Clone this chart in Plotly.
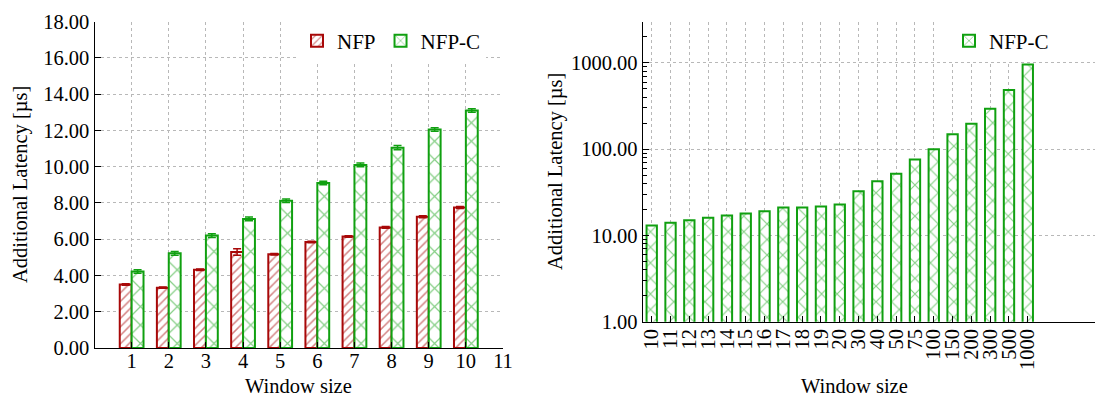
import plotly.graph_objects as go

# ---------------- data ----------------
left_windows = [1, 2, 3, 4, 5, 6, 7, 8, 9, 10]
nfp_latency = [3.5, 3.33, 4.32, 5.3, 5.17, 5.85, 6.15, 6.65, 7.24, 7.75]
nfp_err = [0.04, 0.03, 0.04, 0.18, 0.04, 0.04, 0.04, 0.05, 0.05, 0.05]
nfpc_latency = [4.22, 5.22, 6.2, 7.12, 8.12, 9.1, 10.1, 11.05, 12.05, 13.1]
nfpc_err = [0.1, 0.1, 0.1, 0.1, 0.1, 0.1, 0.1, 0.12, 0.1, 0.1]
left_xticks = [1, 2, 3, 4, 5, 6, 7, 8, 9, 10, 11]
left_yticks = [0, 2, 4, 6, 8, 10, 12, 14, 16, 18]

right_windows = ["10", "11", "12", "13", "14", "15", "16", "17", "18", "19", "20",
                 "30", "40", "50", "75", "100", "150", "200", "300", "500", "1000"]
right_latency = [13.0, 14.0, 15.0, 16.0, 17.0, 18.0, 19.0, 21.0, 21.0, 21.7, 22.8,
                 32.5, 42.5, 52.0, 76.0, 100.0, 149.0, 197.0, 293.0, 485.0, 955.0]
right_yticks = [1, 10, 100, 1000]
right_minor_ticks = [2, 3, 4, 5, 6, 7, 8, 9, 20, 30, 40, 50, 60, 70, 80, 90,
                     200, 300, 400, 500, 600, 700, 800, 900, 2000, 3000]

RED = "#a80808"
GREEN = "#10a010"
FONT = "Liberation Serif"
FS = 20.5
GRID = "#b8b8b8"

fig = go.Figure()

fig.add_trace(go.Bar(
    x=left_windows, y=nfp_latency, name="NFP",
    error_y=dict(type="data", array=nfp_err, color=RED, thickness=1.5, width=4),
    marker=dict(color="white", line=dict(color=RED, width=2),
                pattern=dict(shape="/", fgcolor=RED, bgcolor="white", size=6, solidity=0.25)),
    xaxis="x", yaxis="y", offsetgroup="a", legend="legend",
))
fig.add_trace(go.Bar(
    x=left_windows, y=nfpc_latency, name="NFP-C",
    error_y=dict(type="data", array=nfpc_err, color=GREEN, thickness=1.5, width=4),
    marker=dict(color="white", line=dict(color=GREEN, width=2),
                pattern=dict(shape="x", fgcolor=GREEN, bgcolor="white", size=13, solidity=0.18)),
    xaxis="x", yaxis="y", offsetgroup="b", legend="legend",
))
fig.add_trace(go.Bar(
    x=right_windows, y=right_latency, name="NFP-C",
    marker=dict(color="white", line=dict(color=GREEN, width=2),
                pattern=dict(shape="x", fgcolor=GREEN, bgcolor="white", size=11, solidity=0.2)),
    xaxis="x2", yaxis="y2", legend="legend2", width=0.55,
))

# page body adds an 8px margin; lay out in page pixels
OFF = 8
W, H = 1103 - OFF, 398 - OFF
def px_x(p):
    return (p - OFF) / W
def px_y(p):
    return 1 - (p - OFF) / H

axis_common = dict(
    showline=True, linecolor="black", linewidth=1.2,
    ticks="inside", ticklen=6, tickcolor="black", tickwidth=1.2,
    showgrid=True, gridcolor=GRID, griddash="dot", gridwidth=1,
    zeroline=False,
    tickfont=dict(family=FONT, size=FS, color="black"),
)

fig.update_layout(
    width=W, height=H,
    margin=dict(l=0, r=0, t=0, b=0),
    paper_bgcolor="white", plot_bgcolor="white",
    font=dict(family=FONT, size=FS, color="black"),
    barmode="group", bargap=0.36, bargroupgap=0.0,
    showlegend=True,
    xaxis=dict(domain=[px_x(94.5), px_x(503)], range=[0, 11],
               tickmode="array", tickvals=left_xticks, anchor="y", automargin=False,
               ticklabelstandoff=-6, **axis_common),
    yaxis=dict(domain=[px_y(348), px_y(21.7)], range=[0, 18],
               tickmode="array", tickvals=left_yticks, tickformat=".2f", anchor="x",
               automargin=False, **axis_common),
    xaxis2=dict(domain=[px_x(642.7), 1.0], type="category",
                categoryorder="array", categoryarray=right_windows,
                tickmode="array", tickvals=right_windows, ticktext=right_windows,
                range=[-0.48, 24.0], tickangle=-90, anchor="y2", automargin=False,
                ticklabelstandoff=-2, **axis_common),
    yaxis2=dict(domain=[px_y(321.7), px_y(21.7)], type="log",
                range=[0, 3.477], tickmode="array", tickvals=right_yticks, tickformat=".2f",
                anchor="x2", automargin=False,
                minor=dict(ticks="inside", ticklen=4, tickcolor="black", showgrid=False,
                           tickmode="array", tickvals=right_minor_ticks),
                **axis_common),
    legend=dict(orientation="h", x=px_x(486), xanchor="right", y=px_y(41), yanchor="middle",
                bgcolor="white", font=dict(family=FONT, size=21, color="black"),
                traceorder="normal", itemwidth=30),
    legend2=dict(orientation="h", x=px_x(1054), xanchor="right", y=px_y(41), yanchor="middle",
                 bgcolor="white", font=dict(family=FONT, size=21, color="black"),
                 itemwidth=30),
    annotations=[
        dict(text="Additional Latency [µs]", x=px_x(21), y=px_y(185), xref="paper", yref="paper",
             textangle=-90, showarrow=False, xanchor="center", yanchor="middle",
             font=dict(family=FONT, size=FS)),
        dict(text="Additional Latency [µs]", x=px_x(555), y=px_y(172), xref="paper", yref="paper",
             textangle=-90, showarrow=False, xanchor="center", yanchor="middle",
             font=dict(family=FONT, size=FS)),
        dict(text="Window size", x=px_x(298.5), y=px_y(386), xref="paper", yref="paper",
             showarrow=False, xanchor="center", yanchor="middle", font=dict(family=FONT, size=FS)),
        dict(text="Window size", x=px_x(854), y=px_y(386), xref="paper", yref="paper",
             showarrow=False, xanchor="center", yanchor="middle", font=dict(family=FONT, size=FS)),
    ],
)

fig.write_html("out.html")
